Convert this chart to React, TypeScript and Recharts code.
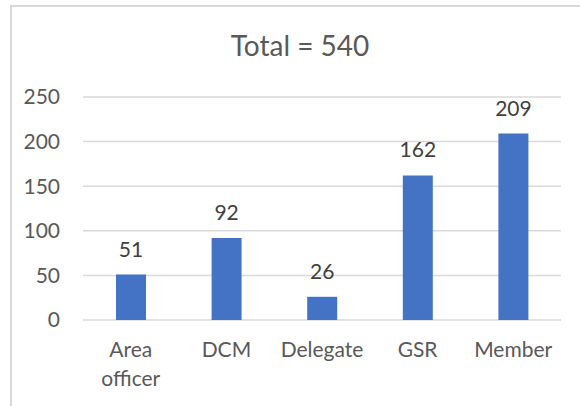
import React from "react";
import { BarChart, Bar, XAxis, YAxis, CartesianGrid, LabelList, Customized } from "recharts";

// headcount by role, Excel-style column chart

const categories = ["Area officer", "DCM", "Delegate", "GSR", "Member"];
const counts = [51, 92, 26, 162, 209];
const yTicks = [0, 50, 100, 150, 200, 250];
const title = "Total = 540";

const data = categories.map((name, i) => ({ name, count: counts[i] }));

const FONT = "Lato, 'Open Sans', sans-serif";

const RoleTick = (props: any) => {
  const { x, y, payload } = props;
  const words = String(payload.value).split(" ");
  return (
    <g>
      {words.map((w: string, i: number) => (
        <text
          key={i}
          x={x}
          y={y + 37 + i * 29}
          textAnchor="middle"
          fill="#595959"
          fontSize={21}
          fontFamily={FONT}
        >
          {w}
        </text>
      ))}
    </g>
  );
};

const Title = () => (
  <text x={300} y={56} textAnchor="middle" fill="#595959" fontSize={28} fontFamily={FONT}>
    {title}
  </text>
);

const App = () => {
  return (
    <div style={{ position: "absolute", left: 0, top: 0, width: 580, height: 406, background: "#fff", overflow: "hidden" }}>
      <div
        style={{
          position: "absolute",
          left: 10,
          top: 5,
          width: 620,
          height: 450,
          borderLeft: "2px solid #d9d9d9",
          borderTop: "2px solid #d9d9d9",
        }}
      />
      <BarChart
        width={580}
        height={406}
        data={data}
        margin={{ top: 97, right: 19, left: 0, bottom: 0 }}
        barSize={30}
        style={{ position: "absolute", left: 0, top: 0 }}
      >
        <CartesianGrid vertical={false} stroke="#d9d9d9" strokeWidth={1.5} />
        <XAxis
          dataKey="name"
          axisLine={false}
          tickLine={false}
          tickSize={0}
          tickMargin={0}
          height={86}
          interval={0}
          tick={<RoleTick />}
        />
        <YAxis
          domain={[0, 250]}
          ticks={yTicks}
          axisLine={false}
          tickLine={false}
          tickSize={0}
          tickMargin={23}
          width={83}
          tick={{ fill: "#595959", fontSize: 21, fontFamily: FONT }}
        />
        <Bar dataKey="count" fill="#4472C4" isAnimationActive={false}>
          <LabelList dataKey="count" position="top" offset={18} fill="#404040" fontSize={21} fontFamily={FONT} />
        </Bar>
        <Customized component={Title} />
      </BarChart>
    </div>
  );
};

export default App;
